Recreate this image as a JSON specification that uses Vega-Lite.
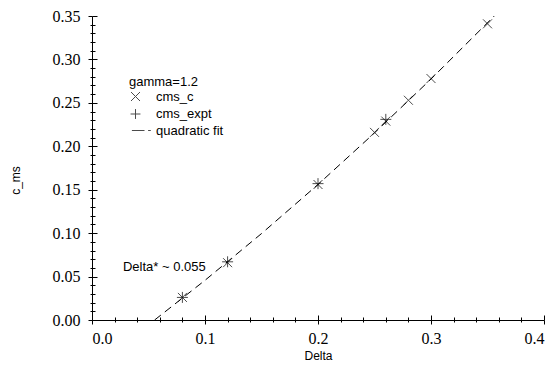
{
  "$schema": "https://vega.github.io/schema/vega-lite/v6.json",
  "width": 452,
  "height": 304,
  "autosize": {"type": "none"},
  "padding": {"left": 92, "top": 16, "right": 12, "bottom": 53},
  "background": "white",
  "config": {
    "view": {"stroke": null},
    "axis": {
      "grid": false,
      "domainColor": "black",
      "tickColor": "black",
      "labelColor": "black",
      "titleColor": "black",
      "labelFont": "Liberation Serif, Times New Roman, serif",
      "labelFontSize": 16,
      "titleFont": "Liberation Sans",
      "titleFontSize": 12,
      "titleFontWeight": "normal",
      "domainWidth": 1,
      "tickWidth": 1
    }
  },
  "resolve": {"axis": {"x": "independent", "y": "independent"}},
  "layer": [
    {
      "data": {"values": [
        {"Delta": 0.0554, "c_ms": 0.0},
        {"Delta": 0.1, "c_ms": 0.0457},
        {"Delta": 0.15, "c_ms": 0.0995},
        {"Delta": 0.2, "c_ms": 0.156},
        {"Delta": 0.25, "c_ms": 0.2154},
        {"Delta": 0.3, "c_ms": 0.2774},
        {"Delta": 0.356, "c_ms": 0.35}
      ]},
      "mark": {"type": "line", "color": "black", "strokeWidth": 1, "strokeDash": [8, 5]},
      "encoding": {
        "x": {"field": "Delta", "type": "quantitative", "scale": {"domain": [0, 0.4], "nice": false, "zero": false},
          "axis": {"orient": "bottom", "values": [0, 0.1, 0.2, 0.3, 0.4], "format": ".1f", "tickSize": 4, "labelPadding": 6, "labelFont": "Liberation Serif, Times New Roman, serif", "labelFontSize": 16, "labelColor": "black", "title": "Delta", "titleFont": "Liberation Sans", "titleFontSize": 12, "titleFontWeight": "normal", "titleX": 226, "titleY": 35, "titleBaseline": "middle", "titleAlign": "center"}},
        "y": {"field": "c_ms", "type": "quantitative", "scale": {"domain": [0, 0.35], "nice": false, "zero": false},
          "axis": {"orient": "left", "values": [0, 0.05, 0.1, 0.15, 0.2, 0.25, 0.3, 0.35], "format": ".2f", "tickSize": 4, "labelPadding": 8, "labelFont": "Liberation Serif, Times New Roman, serif", "labelFontSize": 16, "labelColor": "black", "title": "c_ms", "titleFont": "Liberation Sans", "titleFontSize": 12, "titleFontWeight": "normal", "titleX": -77, "titleY": 164, "titleBaseline": "middle", "titleAlign": "center", "titleAngle": -90}}
      }
    },
    {
      "data": {"values": [
        {"Delta": 0.08, "c_ms": 0.026, "series": "cms_c"},
        {"Delta": 0.12, "c_ms": 0.066, "series": "cms_c"},
        {"Delta": 0.2, "c_ms": 0.156, "series": "cms_c"},
        {"Delta": 0.25, "c_ms": 0.216, "series": "cms_c"},
        {"Delta": 0.26, "c_ms": 0.229, "series": "cms_c"},
        {"Delta": 0.28, "c_ms": 0.253, "series": "cms_c"},
        {"Delta": 0.3, "c_ms": 0.278, "series": "cms_c"},
        {"Delta": 0.35, "c_ms": 0.341, "series": "cms_c"}
      ]},
      "mark": {"type": "point", "filled": false, "stroke": "black", "strokeWidth": 1, "size": 81},
      "encoding": {
        "x": {"field": "Delta", "type": "quantitative",
          "axis": {"orient": "bottom", "values": [0, 0.1, 0.2, 0.3, 0.4], "tickSize": -5, "labels": false, "domain": false, "title": null}},
        "y": {"field": "c_ms", "type": "quantitative",
          "axis": {"orient": "left", "values": [0, 0.05, 0.1, 0.15, 0.2, 0.25, 0.3, 0.35], "tickSize": -5, "labels": false, "domain": false, "title": null}},
        "shape": {"field": "series", "type": "nominal",
          "scale": {"domain": ["cms_c", "cms_expt", "quadratic fit"], "range": ["M-1,-1L1,1M-1,1L1,-1", "M-1.1,0L1.1,0M0,-1.1L0,1.1", "M-0.8,0L2.0,0M2.8,0L3.4,0"]},
          "legend": {"title": "gamma=1.2", "orient": "none", "legendX": 37, "legendY": 60, "padding": 0, "symbolSize": 81, "symbolStrokeColor": "black", "symbolStrokeWidth": 1, "symbolFillColor": "transparent", "labelFont": "Liberation Sans", "labelFontSize": 13, "labelColor": "black", "titleFont": "Liberation Sans", "titleFontSize": 13, "titleFontWeight": "normal", "titleColor": "black", "rowPadding": 2.5, "titlePadding": 1, "labelOffset": 14}}
      }
    },
    {
      "data": {"values": [
        {"Delta": 0.08, "c_ms": 0.026, "series": "cms_expt"},
        {"Delta": 0.12, "c_ms": 0.067, "series": "cms_expt"},
        {"Delta": 0.2, "c_ms": 0.157, "series": "cms_expt"},
        {"Delta": 0.26, "c_ms": 0.231, "series": "cms_expt"}
      ]},
      "mark": {"type": "point", "filled": false, "stroke": "black", "strokeWidth": 1, "size": 100},
      "encoding": {
        "x": {"field": "Delta", "type": "quantitative",
          "axis": {"orient": "bottom", "values": [0.02, 0.04, 0.06, 0.08, 0.12, 0.14, 0.16, 0.18, 0.22, 0.24, 0.26, 0.28, 0.32, 0.34, 0.36, 0.38], "tickSize": 2, "labels": false, "domain": false, "title": null}},
        "y": {"field": "c_ms", "type": "quantitative",
          "axis": {"orient": "left", "values": [0.01, 0.02, 0.03, 0.04, 0.06, 0.07, 0.08, 0.09, 0.11, 0.12, 0.13, 0.14, 0.16, 0.17, 0.18, 0.19, 0.21, 0.22, 0.23, 0.24, 0.26, 0.27, 0.28, 0.29, 0.31, 0.32, 0.33, 0.34], "tickSize": 2, "labels": false, "domain": false, "title": null}},
        "shape": {"field": "series", "type": "nominal"}
      }
    },
    {
      "data": {"values": [
        {"Delta": 0.064, "c_ms": 0.061, "label": "Delta* ~ 0.055"}
      ]},
      "mark": {"type": "text", "font": "Liberation Sans", "fontSize": 13, "color": "black", "align": "center", "baseline": "middle"},
      "encoding": {
        "x": {"field": "Delta", "type": "quantitative",
          "axis": {"orient": "bottom", "values": [0.02, 0.04, 0.06, 0.08, 0.12, 0.14, 0.16, 0.18, 0.22, 0.24, 0.26, 0.28, 0.32, 0.34, 0.36, 0.38], "tickSize": -3, "labels": false, "domain": false, "title": null}},
        "y": {"field": "c_ms", "type": "quantitative",
          "axis": {"orient": "left", "values": [0.01, 0.02, 0.03, 0.04, 0.06, 0.07, 0.08, 0.09, 0.11, 0.12, 0.13, 0.14, 0.16, 0.17, 0.18, 0.19, 0.21, 0.22, 0.23, 0.24, 0.26, 0.27, 0.28, 0.29, 0.31, 0.32, 0.33, 0.34], "tickSize": -3, "labels": false, "domain": false, "title": null}},
        "text": {"field": "label", "type": "nominal"}
      }
    }
  ]
}
